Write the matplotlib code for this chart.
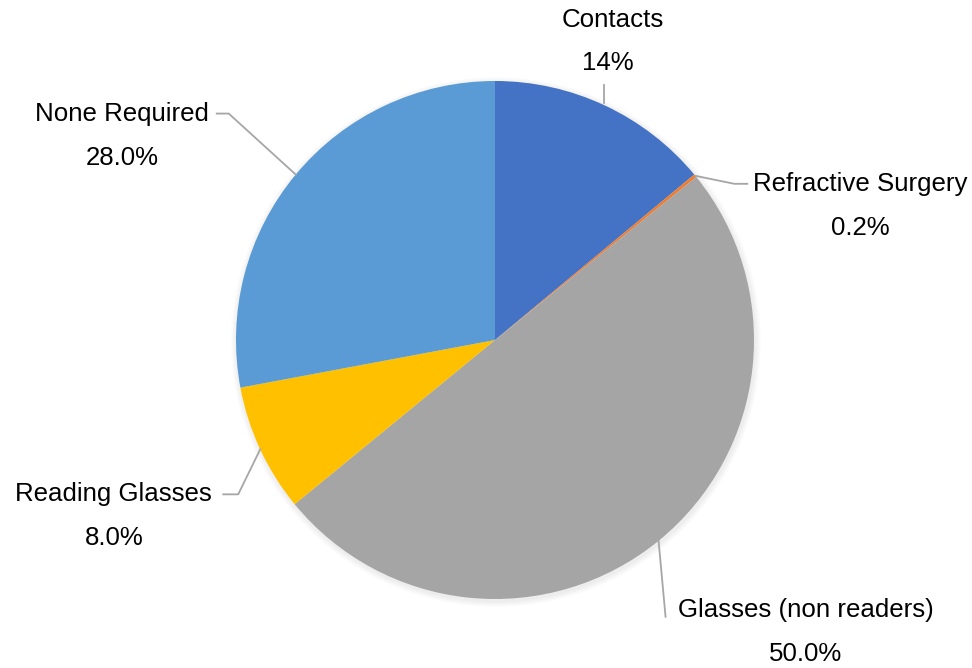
import numpy as np
import matplotlib.pyplot as plt
from matplotlib.patches import Circle

# datos del grafico
categorias = ['Contacts', 'Refractive Surgery', 'Glasses (non readers)',
              'Reading Glasses', 'None Required']
valores = [14.0, 0.2, 50.0, 8.0, 28.0]
etiquetas_pct = ['14%', '0.2%', '50.0%', '8.0%', '28.0%']
colores = ['#4472C4', '#ED7D31', '#A5A5A5', '#FFC000', '#5B9BD5']

W, H = 972, 668
centro = (495, H - 340)
radio = 259
TAM = 18.6

# codo de la linea guia (pixeles respecto al borde de la cuña) y alineacion
ajustes = {
    'Refractive Surgery':    dict(codo=(39, 8), ha='left'),
    'Glasses (non readers)': dict(codo=(7, 76), ha='left'),
    'Reading Glasses':       dict(codo=(-22, 45), ha='right'),
    'None Required':         dict(codo=(-67, -61), ha='right'),
}

plt.rcParams['font.family'] = ['Liberation Sans', 'DejaVu Sans']

fig = plt.figure(figsize=(W / 100, H / 100), dpi=100)
ax = fig.add_axes([0, 0, 1, 1])

# sombra suave
for k in range(6):
    ax.add_patch(Circle((centro[0] + 1, centro[1] - 2), radio + 1 + k,
                        color='black', alpha=0.012, lw=0, zorder=0))

cunas, _ = ax.pie(valores, colors=colores, startangle=90, counterclock=False,
                  center=centro, radius=radio, frame=True,
                  wedgeprops=dict(linewidth=0))
ax.set_xlim(0, W)
ax.set_ylim(0, H)
ax.set_aspect('equal')
ax.axis('off')

gris = '#A6A6A6'
for cuna, cat, pct in zip(cunas, categorias, etiquetas_pct):
    ang = np.deg2rad((cuna.theta1 + cuna.theta2) / 2)
    bx = centro[0] + radio * np.cos(ang)
    by = centro[1] + radio * np.sin(ang)
    if cat == 'Contacts':
        ax.plot([bx - 1, bx - 1], [by + 3, by + 21], color=gris, lw=1.3)
        ax.text(bx + 8, by + 86, cat, ha='center', va='center', fontsize=TAM)
        ax.text(bx + 3, by + 43, pct, ha='center', va='center', fontsize=TAM)
        continue
    a = ajustes[cat]
    cx, cy = bx + a['codo'][0], by - a['codo'][1]
    if cat == 'Refractive Surgery':
        ex = cx + 13
        tx0 = ex + 6
    elif cat == 'Glasses (non readers)':
        ex = cx
        tx0 = ex + 12
    elif cat == 'Reading Glasses':
        ex = cx - 15
        tx0 = ex - 11
    else:
        ex = cx - 12
        tx0 = ex - 8
    ax.plot([bx, cx, ex], [by, cy, cy], color=gris, lw=1.3)
    ty = cy + (7 if cat == 'Glasses (non readers)' else 0)
    ax.text(tx0, ty, cat, ha=a['ha'], va='center', fontsize=TAM)

# porcentajes centrados bajo cada nombre
fig.canvas.draw()
ren = fig.canvas.get_renderer()
for t in list(ax.texts):
    nombre = t.get_text()
    if nombre in categorias and nombre != 'Contacts':
        bb = t.get_window_extent(ren).transformed(ax.transData.inverted())
        pct = etiquetas_pct[categorias.index(nombre)]
        ax.text((bb.x0 + bb.x1) / 2, t.get_position()[1] - 44, pct,
                ha='center', va='center', fontsize=TAM)

fig.savefig('out.png', dpi=100, facecolor='white')
